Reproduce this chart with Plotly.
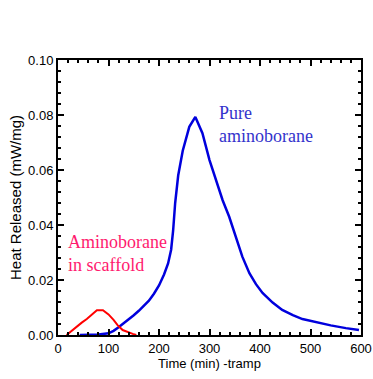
import plotly.graph_objects as go

# Pure aminoborane (blue)
pure_t = [43, 80, 100, 110, 120, 130, 140, 150, 160, 170, 180, 190, 200, 210, 218, 224, 228, 232, 238, 247, 260, 272, 286, 300, 313, 326, 339, 352, 365, 379, 392, 405, 425, 444, 465, 484, 510, 540, 570, 596]
pure_v = [0.0, 0.0002, 0.0006, 0.0015, 0.0028, 0.0042, 0.0057, 0.0072, 0.0088, 0.0105, 0.0125, 0.015, 0.018, 0.022, 0.026, 0.031, 0.038, 0.048, 0.058, 0.067, 0.0757, 0.0793, 0.0734, 0.0636, 0.0564, 0.049, 0.043, 0.0357, 0.0285, 0.0225, 0.0185, 0.0153, 0.0118, 0.0091, 0.0072, 0.0058, 0.0047, 0.0035, 0.0025, 0.0018]

# Aminoborane in scaffold (red)
scaf_t = [17, 27, 37, 47, 57, 67, 77, 89, 100, 110, 118, 128, 138, 148, 155]
scaf_v = [0.0, 0.0016, 0.0032, 0.0045, 0.0058, 0.0075, 0.009, 0.009, 0.0075, 0.0055, 0.0036, 0.0018, 0.001, 0.0004, 0.0]

# Axis ticks
x_major = [0, 100, 200, 300, 400, 500, 600]
y_major = [0.0, 0.02, 0.04, 0.06, 0.08, 0.10]

fig = go.Figure()
fig.add_trace(go.Scatter(x=pure_t, y=pure_v, mode="lines",
                         line=dict(color="#0000dd", width=2.5), showlegend=False))
fig.add_trace(go.Scatter(x=scaf_t, y=scaf_v, mode="lines",
                         line=dict(color="#ff0000", width=2), showlegend=False))

fig.add_annotation(x=315, y=0.0767, text="Pure<br>aminoborane", showarrow=False,
                   xanchor="left", yanchor="middle", align="left",
                   font=dict(family="serif", size=18, color="#3333cc"))
fig.add_annotation(x=16, y=0.0298, text="Aminoborane<br>in scaffold", showarrow=False,
                   xanchor="left", yanchor="middle", align="left",
                   font=dict(family="serif", size=18, color="#ff1a6e"))

sans = "Arial"
tickfont = dict(family=sans, size=13, color="black")
common = dict(ticks="inside", ticklen=6, tickwidth=2, tickcolor="black",
              showline=True, linecolor="black", linewidth=2, mirror="allticks",
              showgrid=False, zeroline=False, tickfont=tickfont)
fig.update_xaxes(range=[0, 600], tickvals=x_major,
                 minor=dict(ticks="inside", dtick=20, ticklen=3, tickcolor="black"),
                 title=dict(text="Time (min) -tramp", font=dict(family=sans, size=13, color="black"),
                            standoff=3),
                 **common)
fig.update_yaxes(range=[0, 0.10], tickvals=y_major, tickformat=".2f",
                 minor=dict(ticks="inside", dtick=0.004, ticklen=3, tickcolor="black"),
                 title=dict(text="Heat Released (mW/mg)", font=dict(family=sans, size=15, color="black"),
                            standoff=3),
                 **common)

fig.update_layout(width=373, height=379, margin=dict(l=58, r=12, t=60, b=44, autoexpand=False),
                  plot_bgcolor="white", paper_bgcolor="white")
fig.write_html("out.html")
